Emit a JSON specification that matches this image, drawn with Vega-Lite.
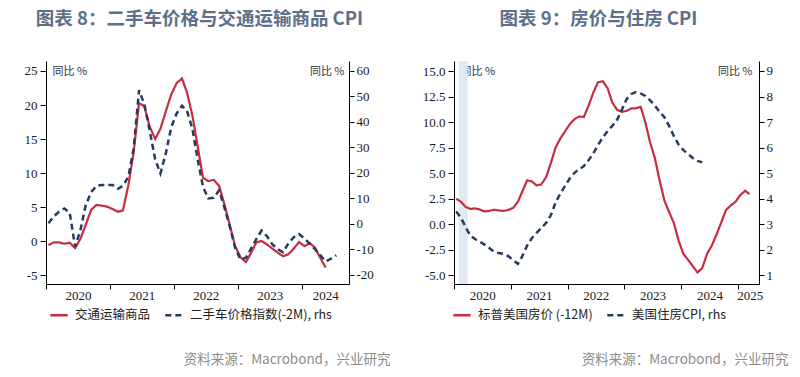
{
  "$schema": "https://vega.github.io/schema/vega-lite/v6.json",
  "background": "white",
  "padding": {"left": 0, "top": 9, "right": 5, "bottom": 8},
  "spacing": 105,
  "bounds": "flush",
  "datasets": {
    "l_red": [
      {"d": "2020-01-15", "v": -0.6}, {"d": "2020-02-15", "v": -0.2}, {"d": "2020-03-15", "v": -0.2}, {"d": "2020-04-15", "v": -0.4},
      {"d": "2020-05-15", "v": -0.25}, {"d": "2020-06-15", "v": -1.05}, {"d": "2020-07-15", "v": 0.3}, {"d": "2020-08-15", "v": 2.4},
      {"d": "2020-09-15", "v": 4.6}, {"d": "2020-10-15", "v": 5.3}, {"d": "2020-11-15", "v": 5.2}, {"d": "2020-12-15", "v": 5.05},
      {"d": "2021-01-15", "v": 4.7}, {"d": "2021-02-15", "v": 4.3}, {"d": "2021-03-15", "v": 4.5}, {"d": "2021-04-15", "v": 8.2},
      {"d": "2021-05-15", "v": 13.0}, {"d": "2021-06-15", "v": 20.3}, {"d": "2021-07-15", "v": 19.8}, {"d": "2021-08-15", "v": 16.8},
      {"d": "2021-09-15", "v": 15.0}, {"d": "2021-10-15", "v": 16.5}, {"d": "2021-11-15", "v": 19.1}, {"d": "2021-12-15", "v": 21.5},
      {"d": "2022-01-15", "v": 23.2}, {"d": "2022-02-15", "v": 23.9}, {"d": "2022-03-15", "v": 21.9}, {"d": "2022-04-15", "v": 18.5},
      {"d": "2022-05-15", "v": 14.0}, {"d": "2022-06-15", "v": 9.3}, {"d": "2022-07-15", "v": 8.8}, {"d": "2022-08-15", "v": 9.0},
      {"d": "2022-09-15", "v": 8.1}, {"d": "2022-10-15", "v": 5.4}, {"d": "2022-11-15", "v": 2.3}, {"d": "2022-12-15", "v": -0.7},
      {"d": "2023-01-15", "v": -2.4}, {"d": "2023-02-15", "v": -3.1}, {"d": "2023-03-15", "v": -1.8}, {"d": "2023-04-15", "v": -0.2},
      {"d": "2023-05-15", "v": 0.0}, {"d": "2023-06-15", "v": -0.5}, {"d": "2023-07-15", "v": -1.1}, {"d": "2023-08-15", "v": -1.7},
      {"d": "2023-09-15", "v": -2.25}, {"d": "2023-10-15", "v": -1.95}, {"d": "2023-11-15", "v": -1.1}, {"d": "2023-12-15", "v": -0.15},
      {"d": "2024-01-15", "v": -0.75}, {"d": "2024-02-15", "v": -0.3}, {"d": "2024-03-15", "v": -1.0}, {"d": "2024-04-15", "v": -2.5},
      {"d": "2024-05-15", "v": -3.9}
    ],
    "l_dash": [
      {"d": "2020-01-15", "v": 0.3}, {"d": "2020-02-15", "v": 3.0}, {"d": "2020-03-15", "v": 4.8}, {"d": "2020-04-15", "v": 6.1},
      {"d": "2020-05-15", "v": 4.5}, {"d": "2020-06-15", "v": -8.8}, {"d": "2020-07-15", "v": -2.5}, {"d": "2020-08-15", "v": 7.5},
      {"d": "2020-09-15", "v": 12.5}, {"d": "2020-10-15", "v": 15.0}, {"d": "2020-11-15", "v": 15.3}, {"d": "2020-12-15", "v": 15.3},
      {"d": "2021-01-15", "v": 15.3}, {"d": "2021-02-15", "v": 13.8}, {"d": "2021-03-15", "v": 15.0}, {"d": "2021-04-15", "v": 18.5},
      {"d": "2021-05-15", "v": 29.5}, {"d": "2021-06-15", "v": 52.5}, {"d": "2021-07-15", "v": 47.0}, {"d": "2021-08-15", "v": 36.5},
      {"d": "2021-09-15", "v": 25.3}, {"d": "2021-10-15", "v": 19.8}, {"d": "2021-11-15", "v": 27.8}, {"d": "2021-12-15", "v": 37.8},
      {"d": "2022-01-15", "v": 43.3}, {"d": "2022-02-15", "v": 46.4}, {"d": "2022-03-15", "v": 44.4}, {"d": "2022-04-15", "v": 37.5},
      {"d": "2022-05-15", "v": 25.5}, {"d": "2022-06-15", "v": 14.5}, {"d": "2022-07-15", "v": 10.0}, {"d": "2022-08-15", "v": 10.3},
      {"d": "2022-09-15", "v": 13.2}, {"d": "2022-10-15", "v": 6.5}, {"d": "2022-11-15", "v": -1.0}, {"d": "2022-12-15", "v": -9.3},
      {"d": "2023-01-15", "v": -14.0}, {"d": "2023-02-15", "v": -13.2}, {"d": "2023-03-15", "v": -9.8}, {"d": "2023-04-15", "v": -5.9},
      {"d": "2023-05-15", "v": -2.6}, {"d": "2023-06-15", "v": -4.8}, {"d": "2023-07-15", "v": -7.9}, {"d": "2023-08-15", "v": -9.9},
      {"d": "2023-09-15", "v": -11.1}, {"d": "2023-10-15", "v": -7.6}, {"d": "2023-11-15", "v": -5.2}, {"d": "2023-12-15", "v": -3.9},
      {"d": "2024-01-15", "v": -5.7}, {"d": "2024-02-15", "v": -7.8}, {"d": "2024-03-15", "v": -9.9}, {"d": "2024-04-15", "v": -12.3},
      {"d": "2024-05-15", "v": -14.7}, {"d": "2024-06-15", "v": -13.6}, {"d": "2024-07-15", "v": -12.3}
    ],
    "r_red": [
      {"d": "2020-01-15", "v": 2.5}, {"d": "2020-02-15", "v": 2.2}, {"d": "2020-03-15", "v": 1.7}, {"d": "2020-04-15", "v": 1.5},
      {"d": "2020-05-15", "v": 1.55}, {"d": "2020-06-15", "v": 1.45}, {"d": "2020-07-15", "v": 1.25}, {"d": "2020-08-15", "v": 1.3},
      {"d": "2020-09-15", "v": 1.42}, {"d": "2020-10-15", "v": 1.35}, {"d": "2020-11-15", "v": 1.3}, {"d": "2020-12-15", "v": 1.4},
      {"d": "2021-01-15", "v": 1.6}, {"d": "2021-02-15", "v": 2.2}, {"d": "2021-03-15", "v": 3.2}, {"d": "2021-04-15", "v": 4.3},
      {"d": "2021-05-15", "v": 4.2}, {"d": "2021-06-15", "v": 3.8}, {"d": "2021-07-15", "v": 3.9}, {"d": "2021-08-15", "v": 4.6},
      {"d": "2021-09-15", "v": 6.0}, {"d": "2021-10-15", "v": 7.5}, {"d": "2021-11-15", "v": 8.4}, {"d": "2021-12-15", "v": 9.1},
      {"d": "2022-01-15", "v": 9.8}, {"d": "2022-02-15", "v": 10.3}, {"d": "2022-03-15", "v": 10.55}, {"d": "2022-04-15", "v": 10.5},
      {"d": "2022-05-15", "v": 11.6}, {"d": "2022-06-15", "v": 12.9}, {"d": "2022-07-15", "v": 13.9}, {"d": "2022-08-15", "v": 14.0},
      {"d": "2022-09-15", "v": 13.3}, {"d": "2022-10-15", "v": 11.9}, {"d": "2022-11-15", "v": 11.2}, {"d": "2022-12-15", "v": 11.0},
      {"d": "2023-01-15", "v": 11.1}, {"d": "2023-02-15", "v": 11.35}, {"d": "2023-03-15", "v": 11.35}, {"d": "2023-04-15", "v": 11.5},
      {"d": "2023-05-15", "v": 10.0}, {"d": "2023-06-15", "v": 8.0}, {"d": "2023-07-15", "v": 6.5}, {"d": "2023-08-15", "v": 4.3},
      {"d": "2023-09-15", "v": 2.3}, {"d": "2023-10-15", "v": 1.2}, {"d": "2023-11-15", "v": 0.1}, {"d": "2023-12-15", "v": -1.6},
      {"d": "2024-01-15", "v": -2.9}, {"d": "2024-02-15", "v": -3.5}, {"d": "2024-03-15", "v": -4.1}, {"d": "2024-04-15", "v": -4.72},
      {"d": "2024-05-15", "v": -4.3}, {"d": "2024-06-15", "v": -2.9}, {"d": "2024-07-15", "v": -2.1}, {"d": "2024-08-15", "v": -1.0},
      {"d": "2024-09-15", "v": 0.2}, {"d": "2024-10-15", "v": 1.4}, {"d": "2024-11-15", "v": 1.85}, {"d": "2024-12-15", "v": 2.2},
      {"d": "2025-01-15", "v": 2.86}, {"d": "2025-02-15", "v": 3.28}, {"d": "2025-03-15", "v": 2.95}
    ],
    "r_dash": [
      {"d": "2020-01-15", "v": 3.5}, {"d": "2020-02-15", "v": 3.25}, {"d": "2020-03-15", "v": 2.9}, {"d": "2020-04-15", "v": 2.55},
      {"d": "2020-05-15", "v": 2.42}, {"d": "2020-06-15", "v": 2.32}, {"d": "2020-07-15", "v": 2.2}, {"d": "2020-08-15", "v": 2.07},
      {"d": "2020-09-15", "v": 1.92}, {"d": "2020-10-15", "v": 1.87}, {"d": "2020-11-15", "v": 1.84}, {"d": "2020-12-15", "v": 1.75},
      {"d": "2021-01-15", "v": 1.6}, {"d": "2021-02-15", "v": 1.45}, {"d": "2021-03-15", "v": 1.75}, {"d": "2021-04-15", "v": 2.16},
      {"d": "2021-05-15", "v": 2.45}, {"d": "2021-06-15", "v": 2.66}, {"d": "2021-07-15", "v": 2.85}, {"d": "2021-08-15", "v": 3.05},
      {"d": "2021-09-15", "v": 3.35}, {"d": "2021-10-15", "v": 3.85}, {"d": "2021-11-15", "v": 4.2}, {"d": "2021-12-15", "v": 4.5},
      {"d": "2022-01-15", "v": 4.8}, {"d": "2022-02-15", "v": 5.02}, {"d": "2022-03-15", "v": 5.15}, {"d": "2022-04-15", "v": 5.28},
      {"d": "2022-05-15", "v": 5.5}, {"d": "2022-06-15", "v": 5.78}, {"d": "2022-07-15", "v": 6.1}, {"d": "2022-08-15", "v": 6.4},
      {"d": "2022-09-15", "v": 6.65}, {"d": "2022-10-15", "v": 6.85}, {"d": "2022-11-15", "v": 7.1}, {"d": "2022-12-15", "v": 7.48},
      {"d": "2023-01-15", "v": 7.9}, {"d": "2023-02-15", "v": 8.1}, {"d": "2023-03-15", "v": 8.17}, {"d": "2023-04-15", "v": 8.12},
      {"d": "2023-05-15", "v": 8.02}, {"d": "2023-06-15", "v": 7.85}, {"d": "2023-07-15", "v": 7.65}, {"d": "2023-08-15", "v": 7.4},
      {"d": "2023-09-15", "v": 7.19}, {"d": "2023-10-15", "v": 6.85}, {"d": "2023-11-15", "v": 6.45}, {"d": "2023-12-15", "v": 6.12},
      {"d": "2024-01-15", "v": 5.9}, {"d": "2024-02-15", "v": 5.74}, {"d": "2024-03-15", "v": 5.59}, {"d": "2024-04-15", "v": 5.48},
      {"d": "2024-05-15", "v": 5.42}
    ],
    "r_band": [{"s": "2020-02-01", "e": "2020-03-28"}]
  },
  "hconcat": [
    {
      "width": 303,
      "height": 223,
      "title": {"text": "图表 8：二手车价格与交通运输商品 CPI", "frame": "group", "anchor": "middle", "dx": 2, "offset": 14, "baseline": "bottom", "font": "Noto Sans CJK SC", "fontSize": 18.5, "fontWeight": "bold", "color": "#5e6f89"},
      "layer": [
        {
          "data": {"name": "l_red"},
          "mark": {"type": "line", "strokeWidth": 2.2},
          "encoding": {
            "x": {"field": "d", "type": "temporal",
              "scale": {"type": "utc", "domain": [{"year": 2020, "month": 1, "date": 1, "utc": true}, {"year": 2024, "month": 9, "date": 25, "utc": true}]},
              "axis": {"orient": "bottom", "labels": false, "tickSize": 5, "domain": true,
                "values": [{"year": 2020, "month": 1, "date": 1, "utc": true}, {"year": 2021, "month": 1, "date": 1, "utc": true}, {"year": 2022, "month": 1, "date": 1, "utc": true}, {"year": 2023, "month": 1, "date": 1, "utc": true}, {"year": 2024, "month": 1, "date": 1, "utc": true}],
                "title": "资料来源：Macrobond，兴业研究", "titleAlign": "right", "titleAnchor": null, "titleX": 344, "titleY": 75, "titleBaseline": "middle", "titleFont": "Noto Sans CJK SC", "titleFontSize": 13.5, "titleFontWeight": "normal", "titleColor": "#8c8c8c"}},
            "y": {"field": "v", "type": "quantitative",
              "scale": {"domain": [-6.32, 26.47], "nice": false, "zero": false},
              "axis": {"orient": "left", "values": [-5, 0, 5, 10, 15, 20, 25], "labelExpr": "replace(datum.label, '−', '-')", "tickSize": 6, "labelPadding": 3, "labelFont": "Liberation Serif", "labelFontSize": 13, "minExtent": 46, "maxExtent": 46,
                "title": "同比 %", "titleAngle": 0, "titleAlign": "left", "titleBaseline": "middle", "titleX": 6, "titleY": 10, "titleFont": "Noto Sans CJK SC", "titleFontSize": 11, "titleFontWeight": "normal", "titleColor": "#333333"}},
            "color": {"datum": "交通运输商品", "type": "nominal",
              "scale": {"domain": ["交通运输商品", "二手车价格指数(-2M), rhs"], "range": ["#c62d42", "#263b5e"]},
              "legend": {"title": null, "orient": "none", "legendX": 3, "legendY": 244, "direction": "horizontal"}},
            "strokeDash": {"datum": "交通运输商品", "type": "nominal",
              "scale": {"domain": ["交通运输商品", "二手车价格指数(-2M), rhs"], "range": [[1, 0], [6, 4]]},
              "legend": {"title": null, "orient": "none", "legendX": 3, "legendY": 244, "direction": "horizontal"}}
          }
        },
        {
          "data": {"name": "l_dash"},
          "mark": {"type": "line", "strokeWidth": 2.5},
          "encoding": {
            "x": {"field": "d", "type": "temporal",
              "scale": {"type": "utc", "domain": [{"year": 2020, "month": 1, "date": 1, "utc": true}, {"year": 2024, "month": 9, "date": 25, "utc": true}]},
              "axis": {"orient": "bottom", "ticks": false, "tickSize": 0, "domain": false, "format": "%Y", "labelPadding": 5, "labelFont": "Liberation Serif", "labelFontSize": 13, "labelOverlap": false, "labelFlush": false, "title": null,
                "values": [{"year": 2020, "month": 7, "date": 1, "utc": true}, {"year": 2021, "month": 7, "date": 1, "utc": true}, {"year": 2022, "month": 7, "date": 1, "utc": true}, {"year": 2023, "month": 7, "date": 1, "utc": true}, {"year": 2024, "month": 5, "date": 12, "utc": true}]}},
            "y": {"field": "v", "type": "quantitative",
              "scale": {"domain": [-23.53, 63.92], "nice": false, "zero": false},
              "axis": {"orient": "right", "values": [-20, -10, 0, 10, 20, 30, 40, 50, 60], "labelExpr": "replace(datum.label, '−', '-')", "tickSize": 5, "labelPadding": 2, "labelFont": "Liberation Serif", "labelFontSize": 13,
                "title": "同比 %", "titleAngle": 0, "titleAlign": "right", "titleBaseline": "middle", "titleX": -5, "titleY": 10, "titleFont": "Noto Sans CJK SC", "titleFontSize": 11, "titleFontWeight": "normal", "titleColor": "#333333"}},
            "color": {"datum": "二手车价格指数(-2M), rhs", "type": "nominal",
              "scale": {"domain": ["交通运输商品", "二手车价格指数(-2M), rhs"], "range": ["#c62d42", "#263b5e"]},
              "legend": {"title": null, "orient": "none", "legendX": 3, "legendY": 244, "direction": "horizontal"}},
            "strokeDash": {"datum": "二手车价格指数(-2M), rhs", "type": "nominal",
              "scale": {"domain": ["交通运输商品", "二手车价格指数(-2M), rhs"], "range": [[1, 0], [6, 4]]},
              "legend": {"title": null, "orient": "none", "legendX": 3, "legendY": 244, "direction": "horizontal"}}
          }
        }
      ],
      "resolve": {"scale": {"x": "independent", "y": "independent"}}
    },
    {
      "width": 305,
      "height": 223,
      "title": {"text": "图表 9：房价与住房 CPI", "frame": "group", "anchor": "middle", "dx": -8, "offset": 14, "baseline": "bottom", "font": "Noto Sans CJK SC", "fontSize": 18.5, "fontWeight": "bold", "color": "#5e6f89"},
      "layer": [
        {
          "data": {"name": "r_band"},
          "mark": {"type": "rect", "color": "#dfe8f3"},
          "encoding": {
            "x": {"field": "s", "type": "temporal",
              "scale": {"type": "utc", "domain": [{"year": 2020, "month": 1, "date": 1, "utc": true}, {"year": 2025, "month": 5, "date": 15, "utc": true}]},
              "axis": null},
            "x2": {"field": "e"}
          }
        },
        {
          "data": {"name": "r_red"},
          "mark": {"type": "line", "strokeWidth": 2.2},
          "encoding": {
            "x": {"field": "d", "type": "temporal",
              "scale": {"type": "utc", "domain": [{"year": 2020, "month": 1, "date": 1, "utc": true}, {"year": 2025, "month": 5, "date": 15, "utc": true}]},
              "axis": {"orient": "bottom", "labels": false, "tickSize": 5, "domain": true,
                "values": [{"year": 2020, "month": 1, "date": 1, "utc": true}, {"year": 2021, "month": 1, "date": 1, "utc": true}, {"year": 2022, "month": 1, "date": 1, "utc": true}, {"year": 2023, "month": 1, "date": 1, "utc": true}, {"year": 2024, "month": 1, "date": 1, "utc": true}, {"year": 2025, "month": 1, "date": 1, "utc": true}],
                "title": "资料来源：Macrobond，兴业研究", "titleAlign": "right", "titleAnchor": null, "titleX": 334, "titleY": 75, "titleBaseline": "middle", "titleFont": "Noto Sans CJK SC", "titleFontSize": 13.5, "titleFontWeight": "normal", "titleColor": "#8c8c8c"}},
            "y": {"field": "v", "type": "quantitative",
              "scale": {"domain": [-5.85, 15.98], "nice": false, "zero": false},
              "axis": {"orient": "left", "values": [-5, -2.5, 0, 2.5, 5, 7.5, 10, 12.5, 15], "format": ".1f", "labelExpr": "replace(datum.label, '−', '-')", "tickSize": 6, "labelPadding": 3, "labelFont": "Liberation Serif", "labelFontSize": 13,
                "title": "同比 %", "titleAngle": 0, "titleAlign": "left", "titleBaseline": "middle", "titleX": 6, "titleY": 10, "titleFont": "Noto Sans CJK SC", "titleFontSize": 11, "titleFontWeight": "normal", "titleColor": "#333333"}},
            "color": {"datum": "标普美国房价 (-12M)", "type": "nominal",
              "scale": {"domain": ["标普美国房价 (-12M)", "美国住房CPI, rhs"], "range": ["#c62d42", "#263b5e"]},
              "legend": {"title": null, "orient": "none", "legendX": -2, "legendY": 244, "direction": "horizontal"}},
            "strokeDash": {"datum": "标普美国房价 (-12M)", "type": "nominal",
              "scale": {"domain": ["标普美国房价 (-12M)", "美国住房CPI, rhs"], "range": [[1, 0], [6, 4]]},
              "legend": {"title": null, "orient": "none", "legendX": -2, "legendY": 244, "direction": "horizontal"}}
          }
        },
        {
          "data": {"name": "r_dash"},
          "mark": {"type": "line", "strokeWidth": 2.5},
          "encoding": {
            "x": {"field": "d", "type": "temporal",
              "scale": {"type": "utc", "domain": [{"year": 2020, "month": 1, "date": 1, "utc": true}, {"year": 2025, "month": 5, "date": 15, "utc": true}]},
              "axis": {"orient": "bottom", "ticks": false, "tickSize": 0, "domain": false, "format": "%Y", "labelPadding": 5, "labelFont": "Liberation Serif", "labelFontSize": 13, "labelOverlap": false, "labelFlush": false, "title": null,
                "values": [{"year": 2020, "month": 7, "date": 1, "utc": true}, {"year": 2021, "month": 7, "date": 1, "utc": true}, {"year": 2022, "month": 7, "date": 1, "utc": true}, {"year": 2023, "month": 7, "date": 1, "utc": true}, {"year": 2024, "month": 7, "date": 1, "utc": true}, {"year": 2025, "month": 3, "date": 16, "utc": true}]}},
            "y": {"field": "v", "type": "quantitative",
              "scale": {"domain": [0.66, 9.39], "nice": false, "zero": false},
              "axis": {"orient": "right", "values": [1, 2, 3, 4, 5, 6, 7, 8, 9], "tickSize": 5, "labelPadding": 2, "labelFont": "Liberation Serif", "labelFontSize": 13,
                "title": "同比 %", "titleAngle": 0, "titleAlign": "right", "titleBaseline": "middle", "titleX": -7, "titleY": 10, "titleFont": "Noto Sans CJK SC", "titleFontSize": 11, "titleFontWeight": "normal", "titleColor": "#333333"}},
            "color": {"datum": "美国住房CPI, rhs", "type": "nominal",
              "scale": {"domain": ["标普美国房价 (-12M)", "美国住房CPI, rhs"], "range": ["#c62d42", "#263b5e"]},
              "legend": {"title": null, "orient": "none", "legendX": -2, "legendY": 244, "direction": "horizontal"}},
            "strokeDash": {"datum": "美国住房CPI, rhs", "type": "nominal",
              "scale": {"domain": ["标普美国房价 (-12M)", "美国住房CPI, rhs"], "range": [[1, 0], [6, 4]]},
              "legend": {"title": null, "orient": "none", "legendX": -2, "legendY": 244, "direction": "horizontal"}}
          }
        }
      ],
      "resolve": {"scale": {"x": "independent", "y": "independent"}}
    }
  ],
  "resolve": {"scale": {"color": "independent", "strokeDash": "independent"}},
  "config": {
    "view": {"stroke": null},
    "axis": {"grid": false, "domainColor": "#000000", "tickColor": "#000000", "domainWidth": 1, "tickWidth": 1, "labelColor": "#1a1a1a"},
    "legend": {"symbolType": "stroke", "symbolSize": 300, "symbolStrokeWidth": 2.5, "labelFont": "Noto Sans CJK SC", "labelFontSize": 12.5, "labelColor": "#222222", "labelOffset": 6, "columnPadding": 9, "padding": 0, "labelLimit": 400}
  }
}
